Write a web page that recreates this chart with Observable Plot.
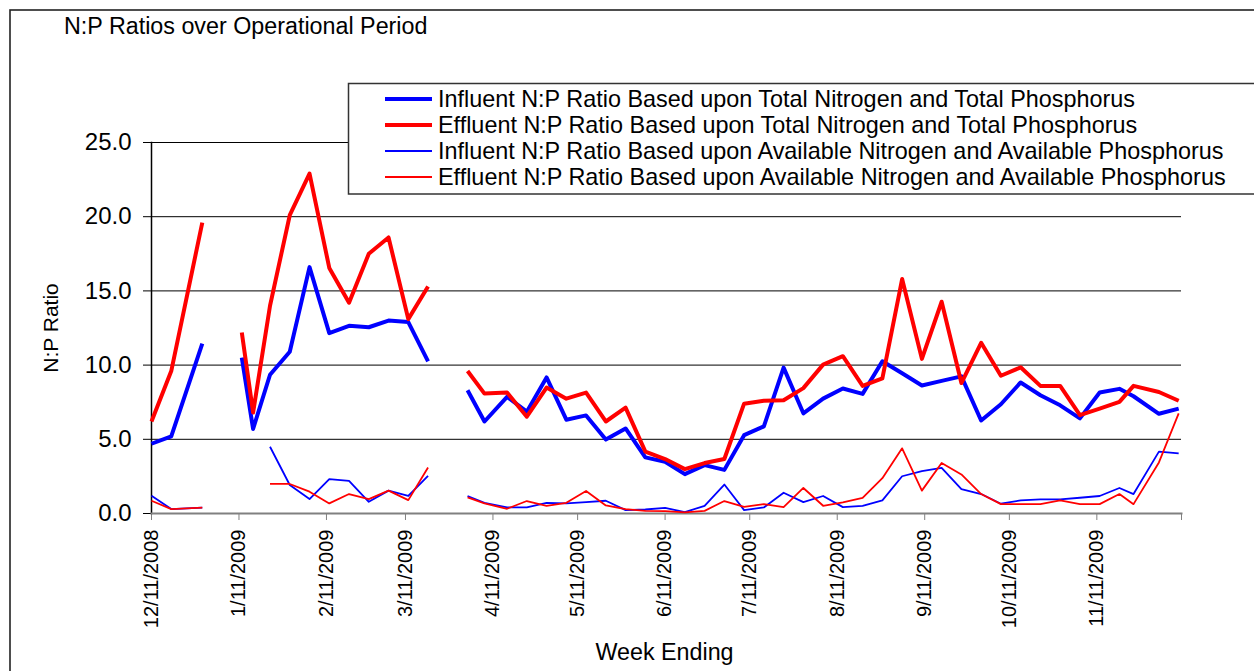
<!DOCTYPE html>
<html>
<head>
<meta charset="utf-8">
<script src="https://cdn.jsdelivr.net/npm/d3@7"></script>
<script src="https://cdn.jsdelivr.net/npm/@observablehq/plot@0.6"></script>
<style>
  html, body { margin: 0; padding: 0; background: #fff; }
  #wrap { position: relative; width: 1254px; height: 671px; overflow: hidden; font-family: 'Liberation Sans', Arial, sans-serif; }
  #wrap svg.overlay { position: absolute; left: 0; top: 0; pointer-events: none; }
  #chart { position: absolute; left: 0; top: 0; }
</style>
</head>
<body>
<div id="wrap">
  <div id="chart"></div>
  <svg class="overlay" width="1254" height="671" font-family="'Liberation Sans', Arial, sans-serif">
    <rect x="10" y="10" width="1300" height="720" fill="none" stroke="#222" stroke-width="1.6"></rect>
    <text x="64" y="34" font-size="23.3" fill="#000">N:P Ratios over Operational Period</text>
    <rect x="348.5" y="83.5" width="960" height="110.5" fill="#fff" stroke="#333" stroke-width="1.5"></rect>
    <g id="legend"></g>
    <text transform="translate(58,328) rotate(-90)" text-anchor="middle" font-size="21" fill="#000">N:P Ratio</text>
    <text x="664.5" y="660" text-anchor="middle" font-size="23.3" fill="#000">Week Ending</text>
  </svg>
</div>
<script>
// ---- data ----
const weekEnding = ["2008-12-11","2008-12-18","2008-12-29","2009-01-05","2009-01-12","2009-01-16","2009-01-22","2009-01-29","2009-02-05","2009-02-12","2009-02-19","2009-02-26","2009-03-05","2009-03-12","2009-03-19","2009-03-26","2009-04-02","2009-04-08","2009-04-16","2009-04-23","2009-04-30","2009-05-07","2009-05-14","2009-05-21","2009-05-28","2009-06-04","2009-06-11","2009-06-18","2009-06-25","2009-07-02","2009-07-09","2009-07-16","2009-07-23","2009-07-30","2009-08-06","2009-08-13","2009-08-20","2009-08-27","2009-09-03","2009-09-10","2009-09-17","2009-09-24","2009-10-01","2009-10-08","2009-10-15","2009-10-22","2009-10-29","2009-11-05","2009-11-12","2009-11-19","2009-11-24","2009-12-03","2009-12-10"];

const influentTotal = [4.7,5.2,11.45,null,10.5,5.7,9.35,10.9,16.6,12.15,12.65,12.55,13.0,12.9,10.25,null,
  8.3,6.2,7.86,6.86,9.17,6.32,6.61,4.98,5.73,3.78,3.49,2.65,3.26,2.94,5.28,5.87,9.83,6.75,7.74,8.42,
  8.06,10.26,9.45,8.63,8.94,9.24,6.27,7.36,8.83,7.97,7.29,6.41,8.15,8.4,7.9,6.72,7.07];

const effluentTotal = [6.2,9.6,19.6,null,12.2,6.8,14.0,20.1,22.9,16.55,14.2,17.5,18.6,13.1,15.3,null,
  9.6,8.08,8.15,6.52,8.49,7.74,8.15,6.2,7.13,4.17,3.67,2.99,3.4,3.67,7.4,7.6,7.63,8.45,10.03,10.6,
  8.6,9.1,15.8,10.42,14.27,8.79,11.5,9.28,9.85,8.6,8.6,6.63,7.07,7.52,8.6,8.19,7.6];

const influentAvailable = [1.2,0.3,0.4,null,null,null,4.5,1.92,0.97,2.31,2.2,0.79,1.54,1.18,2.54,null,
  1.18,0.72,0.41,0.41,0.72,0.68,0.77,0.86,0.23,0.27,0.38,0.09,0.52,1.95,0.23,0.41,1.4,0.77,1.18,0.43,
  0.52,0.88,2.51,2.85,3.08,1.65,1.31,0.66,0.88,0.95,0.95,1.06,1.18,1.72,1.31,4.17,4.05];

const effluentAvailable = [0.86,0.3,0.4,null,null,null,1.99,1.99,1.47,0.68,1.31,0.97,1.54,0.9,3.1,null,
  1.09,0.68,0.32,0.84,0.52,0.72,1.52,0.54,0.29,0.18,0.16,0.07,0.18,0.84,0.45,0.63,0.43,1.72,0.52,0.75,
  1.06,2.38,4.39,1.54,3.4,2.63,1.31,0.63,0.63,0.63,0.88,0.63,0.63,1.31,0.63,3.44,6.75];

const seriesNames = [
  "Influent N:P Ratio Based upon Total Nitrogen and Total Phosphorus",
  "Effluent N:P Ratio Based upon Total Nitrogen and Total Phosphorus",
  "Influent N:P Ratio Based upon Available Nitrogen and Available Phosphorus",
  "Effluent N:P Ratio Based upon Available Nitrogen and Available Phosphorus"
];
const seriesColors = ["#0000ff", "#ff0000", "#0000ff", "#ff0000"];
const seriesWidths = [4, 4, 1.8, 1.8];

const xTickDates = ["2008-12-11","2009-01-11","2009-02-11","2009-03-11","2009-04-11","2009-05-11","2009-06-11","2009-07-11","2009-08-11","2009-09-11","2009-10-11","2009-11-11","2009-12-11"];
const xTickLabels = ["12/11/2008","1/11/2009","2/11/2009","3/11/2009","4/11/2009","5/11/2009","6/11/2009","7/11/2009","8/11/2009","9/11/2009","10/11/2009","11/11/2009",""];
const yTicks = [0, 5, 10, 15, 20, 25];

// ---- build ----
const seriesValues = [influentTotal, effluentTotal, influentAvailable, effluentAvailable];
const rows = weekEnding.map((d, i) => ({date: new Date(d)}));
const lineMarks = seriesValues.map((vals, s) =>
  Plot.line(rows, {
    x: "date",
    y: (d, i) => vals[i] == null ? NaN : vals[i],
    stroke: seriesColors[s],
    strokeWidth: seriesWidths[s],
    strokeLinejoin: "round",
    strokeLinecap: "butt"
  })
);
const tickDates = xTickDates.map(d => new Date(d));
const labelByTime = new Map(tickDates.map((d, i) => [+d, xTickLabels[i]]));

const chart = Plot.plot({
  width: 1254,
  height: 671,
  marginLeft: 151,
  marginRight: 73,
  marginTop: 142,
  marginBottom: 158,
  style: {fontFamily: "'Liberation Sans', Arial, sans-serif", color: "#000", background: "transparent", overflow: "visible"},
  x: {type: "utc", domain: [tickDates[0], tickDates[tickDates.length - 1]]},
  y: {domain: [0, 25]},
  marks: [
    Plot.gridY({ticks: yTicks.filter(t => t > 0), stroke: "#000", strokeOpacity: 1, strokeWidth: 1}),
    Plot.axisY({ticks: yTicks, tickFormat: d => d.toFixed(1), fontSize: 24, tickSize: 8, tickPadding: 12, label: null, stroke: "#000"}),
    Plot.axisX({ticks: tickDates, tickFormat: d => labelByTime.get(+d) ?? "", tickRotate: -90, fontSize: 20, tickSize: 7, tickPadding: 9, label: null, stroke: "#808080"}),
    Plot.frame({anchor: "left", stroke: "#000", strokeWidth: 1.5}),
    Plot.frame({anchor: "bottom", stroke: "#808080", strokeWidth: 2}),
    ...lineMarks
  ]
});
document.getElementById("chart").appendChild(chart);

// legend
const lg = d3.select("#legend");
seriesNames.forEach((name, i) => {
  const cy = 99 + i * 26;
  lg.append("line").attr("x1", 385).attr("x2", 432).attr("y1", cy).attr("y2", cy)
    .attr("stroke", seriesColors[i]).attr("stroke-width", seriesWidths[i]);
  lg.append("text").attr("x", 438).attr("y", cy + 8).attr("font-size", 23.4).attr("fill", "#000").text(name);
});
</script>
</body>
</html>
